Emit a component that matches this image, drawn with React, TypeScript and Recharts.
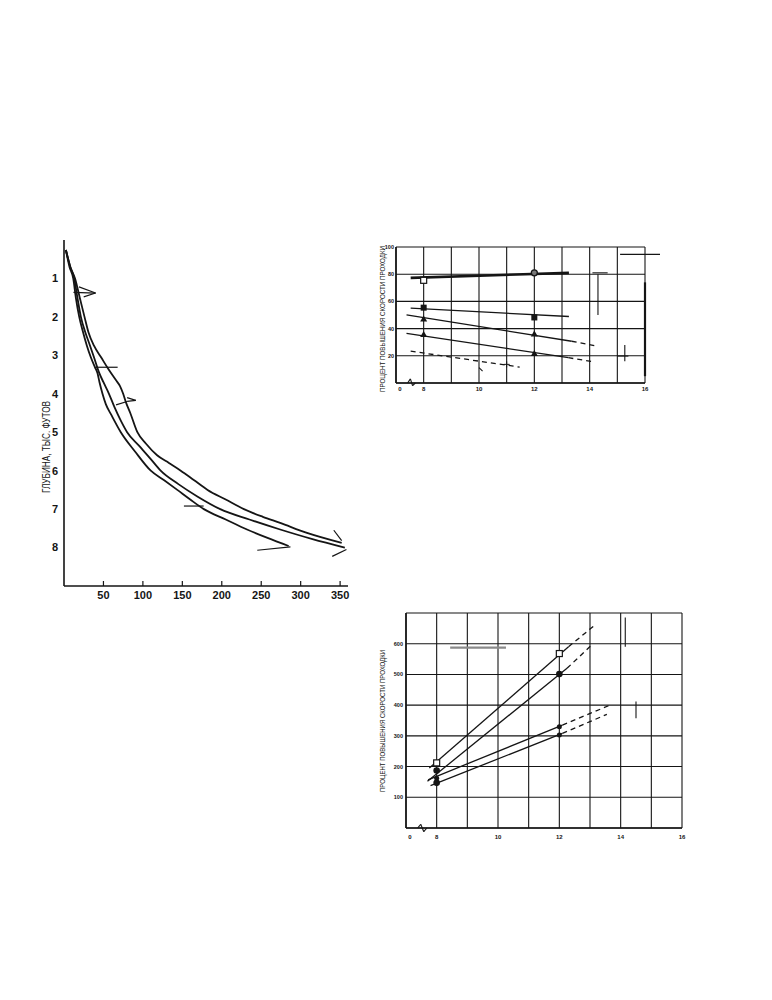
import React from 'react';
import { ComposedChart, Line, Scatter, XAxis, YAxis, CartesianGrid, ReferenceLine } from 'recharts';

type P = { x: number; y: number };
type Seg = [P, P];

const FONT = '"Liberation Sans", Arial, sans-serif';
const INK = '#151515';

// ---------- left chart: depth (thousand ft) vs value ----------
const depthTicks = [1, 2, 3, 4, 5, 6, 7, 8];
const valueTicks = [50, 100, 150, 200, 250, 300, 350];

const curveOuter: P[] = [
  { x: 2.4, y: 0.26 }, { x: 8, y: 0.7 }, { x: 14, y: 1.0 }, { x: 20, y: 1.5 }, { x: 26, y: 2.0 },
  { x: 31, y: 2.4 }, { x: 38, y: 2.75 }, { x: 47, y: 3.05 }, { x: 56, y: 3.35 }, { x: 66, y: 3.65 },
  { x: 71, y: 3.8 }, { x: 75, y: 4.0 }, { x: 79, y: 4.25 }, { x: 84, y: 4.5 }, { x: 93, y: 5.0 },
  { x: 104, y: 5.3 }, { x: 118, y: 5.6 }, { x: 133, y: 5.8 }, { x: 148, y: 6.0 }, { x: 165, y: 6.25 },
  { x: 182, y: 6.5 }, { x: 205, y: 6.75 }, { x: 228, y: 7.0 }, { x: 252, y: 7.2 }, { x: 274, y: 7.36 },
  { x: 308, y: 7.62 }, { x: 352, y: 7.88 },
];
const curveMiddle: P[] = [
  { x: 2.4, y: 0.26 }, { x: 8, y: 0.7 }, { x: 13, y: 1.0 }, { x: 17, y: 1.5 }, { x: 21.4, y: 2.0 },
  { x: 27, y: 2.4 }, { x: 33, y: 2.75 }, { x: 38, y: 3.05 }, { x: 44.5, y: 3.45 }, { x: 50, y: 3.7 },
  { x: 57, y: 4.0 }, { x: 64, y: 4.35 }, { x: 72, y: 4.7 }, { x: 80, y: 5.0 }, { x: 95, y: 5.35 },
  { x: 110, y: 5.7 }, { x: 122.5, y: 6.0 }, { x: 145, y: 6.35 }, { x: 169, y: 6.67 }, { x: 198, y: 7.0 },
  { x: 235, y: 7.27 }, { x: 274, y: 7.53 }, { x: 315, y: 7.78 }, { x: 356, y: 8.0 },
];
const curveInner: P[] = [
  { x: 2.4, y: 0.26 }, { x: 7, y: 0.7 }, { x: 11.7, y: 1.0 }, { x: 15, y: 1.5 }, { x: 19.3, y: 2.0 },
  { x: 23.5, y: 2.35 }, { x: 29, y: 2.75 }, { x: 34, y: 3.05 }, { x: 39, y: 3.3 }, { x: 42.4, y: 3.46 },
  { x: 45, y: 3.7 }, { x: 48.8, y: 4.0 }, { x: 53, y: 4.27 }, { x: 60, y: 4.55 }, { x: 72, y: 5.0 },
  { x: 90, y: 5.5 }, { x: 110, y: 6.0 }, { x: 127, y: 6.25 }, { x: 143.6, y: 6.5 }, { x: 160, y: 6.75 },
  { x: 177.3, y: 7.0 }, { x: 205, y: 7.27 }, { x: 232, y: 7.53 }, { x: 258, y: 7.75 }, { x: 284.8, y: 7.96 },
];
// leader strokes left over from erased labels
const leaders1: Seg[] = [
  [{ x: 40, y: 1.38 }, { x: 19, y: 1.22 }],
  [{ x: 40, y: 1.38 }, { x: 12, y: 1.36 }],
  [{ x: 40, y: 1.38 }, { x: 25, y: 1.48 }],
  [{ x: 40, y: 3.31 }, { x: 68, y: 3.31 }],
  [{ x: 66, y: 4.29 }, { x: 80, y: 4.2 }],
  [{ x: 80, y: 4.2 }, { x: 91, y: 4.17 }],
  [{ x: 80, y: 4.1 }, { x: 91, y: 4.17 }],
  [{ x: 152, y: 6.92 }, { x: 177, y: 6.92 }],
  [{ x: 245, y: 8.07 }, { x: 287, y: 7.98 }],
  [{ x: 342, y: 7.55 }, { x: 352, y: 7.82 }],
  [{ x: 340, y: 8.23 }, { x: 358, y: 8.05 }],
];

// ---------- shared x scale for the two right charts ----------
const bitTicks = [7, 8, 9, 10, 11, 12, 13, 14, 15, 16];
const bitLabel = (v: number) => (v === 7 ? '0' : v % 2 === 0 ? String(v) : '');

// ---------- upper right chart ----------
const pctTicksTop = [0, 20, 40, 60, 80, 100];
const topLineA: P[] = [{ x: 7.53, y: 77.3 }, { x: 13.25, y: 81 }];
const topLineB: P[] = [{ x: 7.53, y: 55 }, { x: 13.25, y: 48.9 }];
const topLineC: P[] = [{ x: 7.38, y: 50.1 }, { x: 13.35, y: 30.7 }];
const topLineCExt: P[] = [{ x: 13.35, y: 30.7 }, { x: 14.17, y: 27.5 }];
const topLineD: P[] = [{ x: 7.38, y: 36.5 }, { x: 13.23, y: 18.6 }];
const topLineDExt: P[] = [{ x: 13.23, y: 18.6 }, { x: 14.1, y: 15.7 }];
const topLineE: P[] = [{ x: 7.53, y: 23.4 }, { x: 11.47, y: 11.7 }];
const topOpenSquares: P[] = [{ x: 8, y: 75.5 }];
const topRings: P[] = [{ x: 12, y: 81 }];
const topSquares: P[] = [{ x: 8, y: 55.4 }, { x: 12, y: 48.2 }];
const topTriangles: P[] = [{ x: 8, y: 47 }, { x: 12, y: 36 }, { x: 8, y: 35.6 }, { x: 12, y: 21.7 }];
const topPlus: P[] = [{ x: 11, y: 13.7 }];
const topMarks: Seg[] = [
  [{ x: 15.1, y: 94.6 }, { x: 17.05, y: 94.6 }],
  [{ x: 14.1, y: 81 }, { x: 14.65, y: 81 }],
  [{ x: 14.3, y: 80 }, { x: 14.3, y: 50 }],
  [{ x: 15.27, y: 28 }, { x: 15.27, y: 16 }],
  [{ x: 15.0, y: 19.8 }, { x: 15.4, y: 19.8 }],
  [{ x: 10.0, y: 11.3 }, { x: 10.13, y: 8.8 }],
  [{ x: 16, y: 5 }, { x: 16, y: 74 }],
  [{ x: 7.42, y: 0 }, { x: 7.52, y: 3 }],
  [{ x: 7.52, y: 3 }, { x: 7.6, y: -2 }],
  [{ x: 7.6, y: -2 }, { x: 7.7, y: 0 }],
];

// ---------- lower right chart ----------
const pctTicksBottom = [0, 100, 200, 300, 400, 500, 600, 700];
const lowLine1: P[] = [{ x: 7.76, y: 195 }, { x: 12.3, y: 590 }];
const lowLine1Ext: P[] = [{ x: 12.3, y: 590 }, { x: 13.15, y: 660 }];
const lowLine2: P[] = [{ x: 7.7, y: 152 }, { x: 12.25, y: 520 }];
const lowLine2Ext: P[] = [{ x: 12.25, y: 520 }, { x: 13.1, y: 600 }];
const lowLine3: P[] = [{ x: 7.72, y: 157 }, { x: 12.1, y: 335 }];
const lowLine3Ext: P[] = [{ x: 12.1, y: 335 }, { x: 13.65, y: 400 }];
const lowLine4: P[] = [{ x: 7.8, y: 138 }, { x: 12.1, y: 308 }];
const lowLine4Ext: P[] = [{ x: 12.1, y: 308 }, { x: 13.55, y: 370 }];
const lowOpenSquares: P[] = [{ x: 8, y: 212 }, { x: 12, y: 568 }];
const lowCircles: P[] = [{ x: 8, y: 187 }, { x: 12, y: 501 }, { x: 8, y: 147 }];
const lowDots: P[] = [{ x: 12, y: 330 }, { x: 12, y: 303 }, { x: 8, y: 162 }];
const lowMarks: Seg[] = [
  [{ x: 14.15, y: 685 }, { x: 14.15, y: 590 }],
  [{ x: 14.5, y: 412 }, { x: 14.5, y: 357 }],
  [{ x: 7.38, y: 0 }, { x: 7.48, y: 12 }],
  [{ x: 7.48, y: 12 }, { x: 7.58, y: -12 }],
  [{ x: 7.58, y: -12 }, { x: 7.68, y: 0 }],
];
const lowGreyBar: Seg = [{ x: 8.44, y: 587 }, { x: 10.26, y: 587 }];

// ---------- marker shapes ----------
const openSquare = (p: any) => <rect x={p.cx - 3} y={p.cy - 3} width={6} height={6} fill="#fff" stroke={INK} strokeWidth={1.2} />;
const filledSquare = (p: any) => <rect x={p.cx - 3} y={p.cy - 3} width={6} height={6} fill={INK} />;
const ring = (p: any) => <circle cx={p.cx} cy={p.cy} r={3} fill="#777" stroke={INK} strokeWidth={1.3} />;
const filledCircle = (p: any) => <circle cx={p.cx} cy={p.cy} r={3.3} fill={INK} />;
const smallDot = (p: any) => <circle cx={p.cx} cy={p.cy} r={2.5} fill={INK} />;
const triangle = (p: any) => <path d={`M${p.cx},${p.cy - 3.5} L${p.cx + 3.5},${p.cy + 2.5} L${p.cx - 3.5},${p.cy + 2.5} Z`} fill={INK} />;
const plus = (p: any) => (
  <path d={`M${p.cx - 3},${p.cy} H${p.cx + 3} M${p.cx},${p.cy - 3} V${p.cy + 3}`} stroke={INK} strokeWidth={1} />
);

const DepthXTick = (props: any) => {
  const { x, y, payload } = props;
  return (
    <g>
      <line x1={x} y1={y} x2={x} y2={y - 5} stroke={INK} strokeWidth={1.2} />
      <text x={x} y={y + 5} dy="0.71em" textAnchor="middle" fontSize={11} fontWeight="bold" fontFamily={FONT} fill={INK}>
        {payload.value}
      </text>
    </g>
  );
};

const BitTick = (props: any) => {
  const { x, y, payload } = props;
  const v = payload.value;
  return (
    <text x={x + (v === 7 ? 4 : 0)} y={y} dy="0.71em" textAnchor="middle" fontSize={6} fontWeight="bold" fontFamily={FONT} fill={INK}>
      {bitLabel(v)}
    </text>
  );
};

const solid = (data: P[], w = 1.3) => (
  <Line data={data} dataKey="y" type="linear" stroke={INK} strokeWidth={w} dot={false} isAnimationActive={false} />
);
const dashed = (data: P[]) => (
  <Line data={data} dataKey="y" type="linear" stroke={INK} strokeWidth={1.3} strokeDasharray="5 4" dot={false} isAnimationActive={false} />
);

export default function App() {
  return (
    <div style={{ position: 'absolute', left: 0, top: 0, width: 772, height: 1000, background: '#fff', fontFamily: FONT }}>
      {/* depth curves */}
      <div style={{ position: 'absolute', left: 0, top: 220 }}>
        <ComposedChart width={372} height={400} margin={{ top: 20, right: 24, left: 24, bottom: 10 }}>
          <XAxis
            type="number" dataKey="x" domain={[0, 360]} ticks={valueTicks} interval={0} allowDataOverflow
            height={24} tickSize={0} tickMargin={0} tickLine={false} tick={<DepthXTick />}
            axisLine={{ stroke: INK, strokeWidth: 1.4 }}
          />
          <YAxis
            type="number" dataKey="y" domain={[0, 9]} reversed ticks={depthTicks} interval={0} allowDataOverflow
            width={40} tickLine={false} tickMargin={0} axisLine={{ stroke: INK, strokeWidth: 1.6 }}
            tick={{ fontSize: 11, fontWeight: 'bold', fill: INK, fontFamily: FONT }}
          />
          <Line data={curveOuter} dataKey="y" type="monotone" stroke={INK} strokeWidth={1.8} dot={false} isAnimationActive={false} />
          <Line data={curveMiddle} dataKey="y" type="monotone" stroke={INK} strokeWidth={1.8} dot={false} isAnimationActive={false} />
          <Line data={curveInner} dataKey="y" type="monotone" stroke={INK} strokeWidth={1.8} dot={false} isAnimationActive={false} />
          {leaders1.map((s, i) => (
            <ReferenceLine key={i} segment={s} stroke={INK} strokeWidth={1.2} ifOverflow="visible" />
          ))}
        </ComposedChart>
      </div>

      {/* upper right chart */}
      <div style={{ position: 'absolute', left: 360, top: 230 }}>
        <ComposedChart width={300} height={170} margin={{ top: 17, right: 15, left: 6, bottom: 5 }}>
          <CartesianGrid stroke={INK} strokeWidth={1.1} />
          <XAxis
            type="number" dataKey="x" domain={[7, 16]} ticks={bitTicks} interval={0} allowDataOverflow
            height={12} tickSize={0} tickMargin={4} tickLine={false} tick={<BitTick />}
            axisLine={{ stroke: INK, strokeWidth: 1.3 }}
          />
          <YAxis
            type="number" dataKey="y" domain={[0, 100]} ticks={pctTicksTop} interval={0} allowDataOverflow
            width={30} tickSize={0} tickMargin={2} tickLine={false} axisLine={{ stroke: INK, strokeWidth: 1.6 }}
            tickFormatter={(v: number) => (v === 0 ? '' : String(v))}
            tick={{ fontSize: 5.5, fontWeight: 'bold', fill: INK, fontFamily: FONT }}
          />
          {solid(topLineA, 2.6)}
          {solid(topLineB)}
          {solid(topLineC)}
          {dashed(topLineCExt)}
          {solid(topLineD)}
          {dashed(topLineDExt)}
          {dashed(topLineE)}
          <Scatter data={topOpenSquares} dataKey="y" shape={openSquare} isAnimationActive={false} />
          <Scatter data={topRings} dataKey="y" shape={ring} isAnimationActive={false} />
          <Scatter data={topSquares} dataKey="y" shape={filledSquare} isAnimationActive={false} />
          <Scatter data={topTriangles} dataKey="y" shape={triangle} isAnimationActive={false} />
          <Scatter data={topPlus} dataKey="y" shape={plus} isAnimationActive={false} />
          {topMarks.map((s, i) => (
            <ReferenceLine key={i} segment={s} stroke={INK} strokeWidth={i === 6 ? 2.2 : 1.1} ifOverflow="visible" />
          ))}
        </ComposedChart>
      </div>

      {/* lower right chart */}
      <div style={{ position: 'absolute', left: 370, top: 595 }}>
        <ComposedChart width={320} height={255} margin={{ top: 18, right: 8, left: 6, bottom: 8 }}>
          <CartesianGrid stroke={INK} strokeWidth={1.1} />
          <XAxis
            type="number" dataKey="x" domain={[7, 16]} ticks={bitTicks} interval={0} allowDataOverflow
            height={14} tickSize={0} tickMargin={7} tickLine={false} tick={<BitTick />}
            axisLine={{ stroke: INK, strokeWidth: 1.3 }}
          />
          <YAxis
            type="number" dataKey="y" domain={[0, 700]} ticks={pctTicksBottom} interval={0} allowDataOverflow
            width={30} tickSize={0} tickMargin={3} tickLine={false} axisLine={{ stroke: INK, strokeWidth: 1.6 }}
            tickFormatter={(v: number) => (v === 0 || v === 700 ? '' : String(v))}
            tick={{ fontSize: 5.5, fontWeight: 'bold', fill: INK, fontFamily: FONT }}
          />
          {solid(lowLine1)}
          {dashed(lowLine1Ext)}
          {solid(lowLine2)}
          {dashed(lowLine2Ext)}
          {solid(lowLine3)}
          {dashed(lowLine3Ext)}
          {solid(lowLine4)}
          {dashed(lowLine4Ext)}
          <Scatter data={lowOpenSquares} dataKey="y" shape={openSquare} isAnimationActive={false} />
          <Scatter data={lowCircles} dataKey="y" shape={filledCircle} isAnimationActive={false} />
          <Scatter data={lowDots} dataKey="y" shape={smallDot} isAnimationActive={false} />
          <ReferenceLine segment={lowGreyBar} stroke="#8a8a8a" strokeWidth={2.2} ifOverflow="visible" />
          {lowMarks.map((s, i) => (
            <ReferenceLine key={i} segment={s} stroke={INK} strokeWidth={1.1} ifOverflow="visible" />
          ))}
        </ComposedChart>
      </div>

      {/* rotated axis titles */}
      <svg width={772} height={1000} style={{ position: 'absolute', left: 0, top: 0, pointerEvents: 'none' }}>
        <text
          transform="translate(46,447) rotate(-90)" textAnchor="middle" dominantBaseline="central"
          fontSize={10} fontFamily={FONT} fill={INK} textLength={92} lengthAdjust="spacingAndGlyphs"
        >
          ГЛУБИНА, ТЫС. ФУТОВ
        </text>
        <text
          transform="translate(382,319) rotate(-90)" textAnchor="middle" dominantBaseline="central"
          fontSize={8} fontFamily={FONT} fill={INK} textLength={146} lengthAdjust="spacingAndGlyphs"
        >
          ПРОЦЕНТ ПОВЫШЕНИЯ СКОРОСТИ ПРОХОДКИ
        </text>
        <text
          transform="translate(382,721) rotate(-90)" textAnchor="middle" dominantBaseline="central"
          fontSize={8} fontFamily={FONT} fill={INK} textLength={142} lengthAdjust="spacingAndGlyphs"
        >
          ПРОЦЕНТ ПОВЫШЕНИЯ СКОРОСТИ ПРОХОДКИ
        </text>
      </svg>
    </div>
  );
}
